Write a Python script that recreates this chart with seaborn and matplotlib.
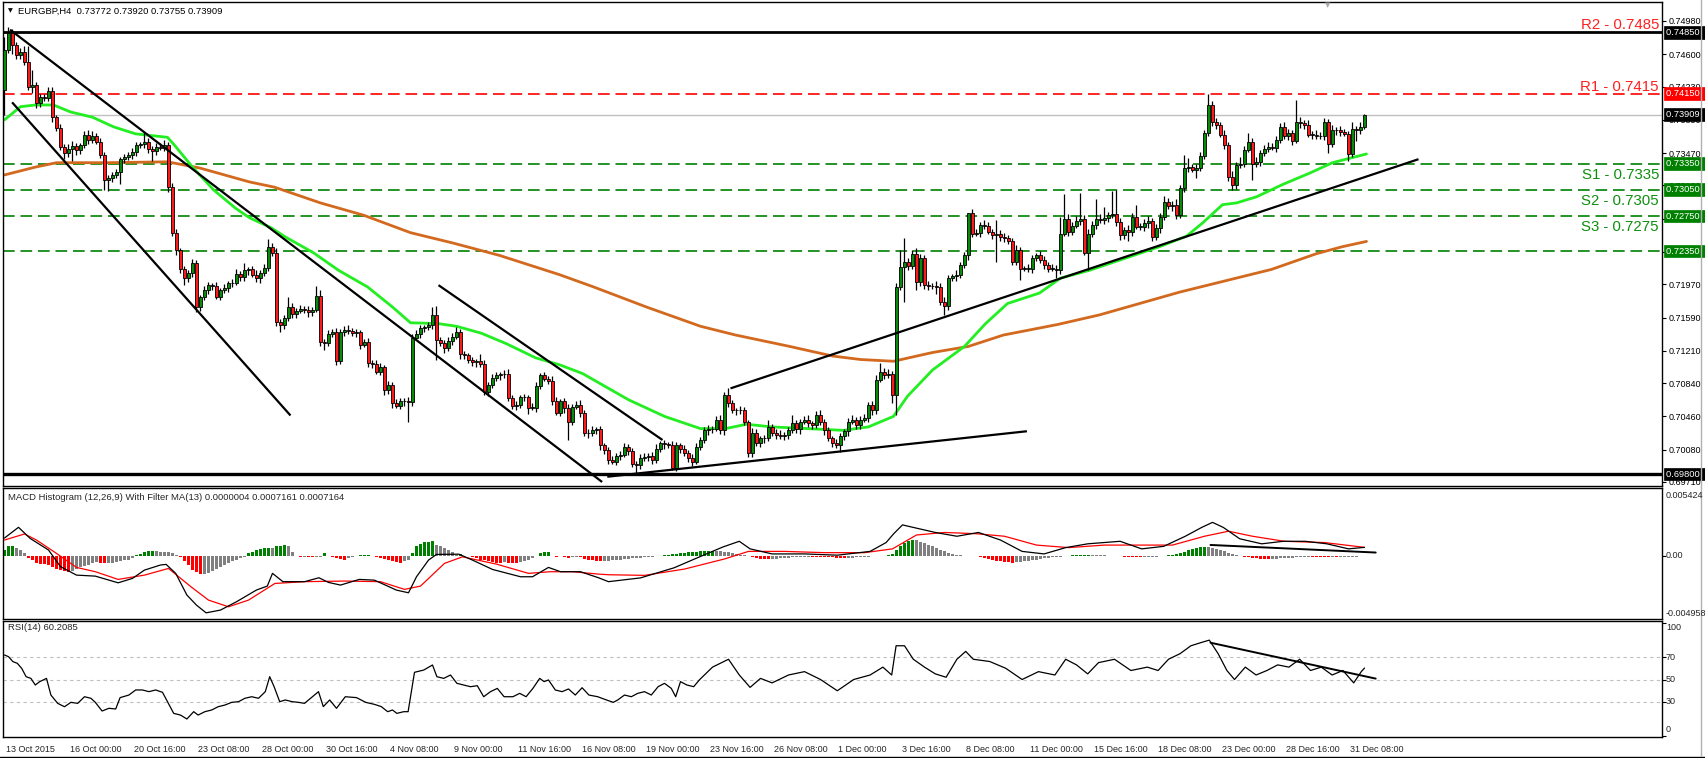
import numpy as np
import pandas as pd
import matplotlib
matplotlib.use("Agg")
import matplotlib.pyplot as plt
import matplotlib.transforms as mtransforms
from matplotlib.lines import Line2D
import seaborn as sns

# ---------------- data (prices in pips: 7465 -> 0.7465) ----------------
symbol_header = "EURGBP,H4  0.73772 0.73920 0.73755 0.73909"
macd_header = "MACD Histogram (12,26,9) With Filter MA(13) 0.0000004 0.0007161 0.0007164"
rsi_header = "RSI(14) 60.2085"

first_open = 7419
closes = [
7465,7484,7471,7459,7463,7451,7423,7425,7404,7411,
7410,7418,7388,7376,7354,7347,7352,7355,7350,7356,
7368,7362,7367,7360,7345,7316,7318,7322,7325,7340,
7342,7345,7348,7356,7357,7360,7352,7349,7354,7353,
7356,7308,7256,7236,7214,7204,7210,7221,7171,7182,
7190,7196,7195,7183,7190,7193,7198,7199,7209,7205,
7213,7214,7208,7204,7210,7216,7240,7233,7154,7150,
7158,7171,7163,7167,7169,7168,7165,7168,7184,7131,
7130,7140,7143,7109,7143,7145,7144,7141,7142,7128,
7131,7107,7106,7097,7102,7076,7082,7061,7058,7063,
7064,7062,7136,7140,7147,7148,7150,7162,7133,7130,
7124,7132,7137,7143,7117,7116,7110,7108,7109,7106,
7074,7082,7090,7093,7094,7095,7067,7058,7059,7068,
7068,7056,7056,7081,7093,7089,7087,7064,7050,7063,
7055,7040,7057,7059,7050,7027,7027,7030,7031,7013,
7007,6996,6994,7001,7002,7011,7006,6992,6990,6998,
7000,7001,6996,7009,7015,7014,7013,6987,7013,7009,
7004,6998,6994,7011,7019,7030,7031,7032,7042,7030,
7070,7061,7053,7053,7053,7039,7004,7027,7015,7021,
7021,7034,7027,7025,7023,7025,7030,7038,7031,7040,
7042,7038,7036,7048,7040,7030,7021,7015,7013,7023,
7029,7040,7042,7036,7042,7044,7059,7053,7088,7097,
7093,7095,7070,7194,7217,7222,7218,7232,7200,7227,
7196,7195,7195,7194,7177,7172,7204,7206,7208,7219,
7230,7278,7255,7256,7265,7264,7257,7253,7255,7251,
7250,7246,7223,7236,7215,7215,7215,7227,7230,7225,
7219,7215,7215,7213,7255,7272,7257,7264,7269,7272,
7233,7255,7265,7272,7270,7273,7276,7277,7268,7253,
7259,7257,7274,7263,7263,7267,7269,7251,7261,7274,
7291,7286,7288,7276,7307,7330,7331,7328,7330,7344,
7370,7402,7383,7379,7368,7356,7320,7310,7333,7335,
7351,7360,7335,7337,7347,7352,7354,7353,7362,7377,
7366,7370,7361,7383,7381,7379,7368,7368,7367,7366,
7382,7357,7373,7373,7371,7369,7346,7374,7373,7377,
7391]
up_wick = [
15,7,5,3,4,6,18,17,3,4, 3,5,4,3,4,3,5,6,4,3, 4,5,5,3,4,3,4,3,4,3,
4,3,5,4,3,11,4,3,5,4, 6,4,5,4,3,4,3,5,4,3, 5,4,3,5,3,4,3,4,5,3,
8,3,4,5,3,4,9,4,6,3, 4,11,5,3,4,3,4,3,11,6, 4,5,3,4,3,4,5,3,4,3,
4,5,3,4,5,3,4,3,5,4, 3,4,4,5,4,3,4,9,10,4, 3,5,4,5,3,4,3,4,3,8,
4,3,5,4,3,4,5,3,4,3, 4,3,5,4,3,4,3,5,4,3, 4,5,3,4,6,3,4,5,3,4,
3,4,5,3,4,5,3,4,3,5, 4,3,4,5,3,4,3,5,4,3, 4,3,5,4,3,4,5,3,4,5,
4,8,4,3,5,4,3,6,4,3, 4,8,3,4,5,3,4,10,4,3, 4,5,3,4,5,3,4,3,5,4,
3,4,5,3,4,5,3,4,5,10, 4,5,3,4,19,28,5,4,6,5, 4,5,3,6,4,5,4,3,5,4,
4,0,5,4,3,5,4,3,15,4, 5,3,4,6,4,3,5,4,3,5, 4,3,5,4,19,28,5,4,6,29,
4,5,4,22,5,12,4,27,28,5, 4,6,5,14,4,5,6,4,5,4, 7,5,4,6,4,15,10,4,5,4,
3,13,5,4,3,5,4,6,4,7, 4,10,4,5,3,4,6,4,5,4, 5,4,3,25,5,4,6,4,5,4,
5,4,6,4,5,4,3,8,4,5, 1]
low_wick = [
28,4,11,5,4,3,4,7,6,4, 3,4,5,4,4,7,4,14,5,4, 3,5,4,3,4,11,12,4,3,13,
4,3,5,4,3,4,5,11,4,3, 4,5,4,5,4,8,4,5,6,4, 3,4,5,3,4,3,5,4,3,4,
4,5,3,4,5,3,4,4,5,7, 4,3,5,4,3,4,5,4,3,4, 8,4,3,4,3,5,4,3,4,5,
3,4,5,3,4,5,4,6,3,4, 5,22,4,3,4,5,3,4,23,4, 5,3,4,3,5,4,3,4,5,3,
4,5,3,4,5,4,3,4,5,3, 4,7,3,5,4,3,4,5,3,4, 5,21,4,3,5,4,6,3,4,5,
4,5,3,4,5,3,4,4,9,4, 3,5,4,3,4,5,3,2,4,5, 3,4,5,3,4,3,5,4,3,4,
5,4,3,5,4,3,4,5,3,4, 5,3,4,5,3,4,5,3,4,5, 3,4,5,3,4,5,3,4,3,8,
4,5,3,4,5,3,4,5,4,3, 4,3,9,22,4,40,5,4,10,5, 4,5,3,8,4,10,4,3,5,4,
3,5,4,3,5,4,3,4,30,4, 5,3,4,4,13,3,4,5,3,4, 5,4,3,9,4,3,5,4,3,4,
3,20,4,5,3,4,5,3,4,5, 4,10,5,3,4,5,6,4,3,5, 4,3,5,4,3,4,5,3,10,4,
4,3,5,4,3,4,5,5,4,3, 4,3,19,4,5,3,4,3,5,4, 3,4,5,3,5,4,3,5,4,3,
4,10,3,5,4,3,8,4,12,4, 2]

# moving averages read at sample bars
ma_fast_bar = [0,4,7.75,12.25,16.5,22,27.25,32.75,40.75,42.5,47,52.25,57.75,61.25,66.5,70.25,
               77.25,83.5,90.75,97,101.5,108.5,113,119.25,125.5,132.75,138.75,144.5,156,165,174,
               180.25,185.5,191.75,200.75,209.75,216,222.25,225.75,232,240,245.25,250.75,258.75,
               264,271.25,288.75,295.5,299.5,304.5,308,313,319.5,326.25,332,336.25,340.5]
ma_fast_val = [7385,7400,7402,7402,7394,7388,7377,7369,7365,7356,7331,7305,7284,7273,7262,7251,
               7233,7213,7194,7171,7153,7152,7149,7141,7129,7113,7105,7095,7065,7046,7032,
               7032,7037,7034,7032,7030,7034,7046,7069,7099,7126,7152,7175,7187,
               7204,7213,7240,7252,7267,7288,7290,7297,7311,7324,7336,7341,7346]
ma_slow_bar = [0,7.75,13,25.5,40.75,48.75,61.25,67.5,79,89.75,101.5,112.25,123.75,138.75,147.25,
               160.5,174,182.75,196.25,207,214,222.25,232,241,249.75,263.25,273.75,293.75,316.75,
               328,334.5,340.5]
ma_slow_val = [7322,7331,7336,7336,7337,7330,7314,7308,7290,7276,7256,7244,7230,7208,7194,
               7171,7149,7139,7126,7115,7111,7109,7119,7126,7139,7151,7162,7188,7214,
               7232,7240,7246]

# MACD (units of 1e-5)
macd_bar = [0,3.5,6.4,11,14,18,22.7,28.4,32,35,39,40.4,42.8,45.6,48,50.4,54,58,63,65.7,67,69.6,75,
            78.6,81,84,88.7,92.5,98,101,103,106,108,113.6,117,122,129,132,136,139,144,148.5,
            151,159,167.4,174,179.6,183.7,186.4,191.9,200,208.2,216.4,220.4,222.3,224.5,227.2,
            232.7,238.1,243.5,249,254.4,259.9,265.3,270.8,278.9,284.3,289.8,295.2,299.3,302,
            304.7,308.8,314.3,319.7,325.2,330.6,336,340]
macd_val = [146,231,143,51,-81,-148,-156,-209,-174,-108,-68,-63,-134,-306,-386,-447,-425,-359,-266,
            -235,-134,-200,-200,-169,-206,-227,-182,-188,-267,-288,-161,-29,16,18,-29,-103,-161,
            -161,-87,-121,-121,-169,
            -200,-170,-90,0,75,120,60,20,20,10,40,110,180,250,230,190,160,190,130,40,20,70,100,
            120,60,80,160,230,270,230,140,100,120,120,100,60,72]
signal_bar = [0,5,8,13,18,22.7,28.4,35,41,46.6,51,56,61,67.6,75,85,94,100,104,110,114.5,123,131,
              136.5,142,148.5,151,160,170,180,186,195,205,215,222,228,235,243,250,258,266,275,
              285,292,300,306,312,320,330,340]
signal_val = [130,178,130,24,-87,-121,-182,-148,-95,-240,-346,-399,-346,-214,-200,-195,-200,-261,
              -235,-55,-3,-61,-134,-121,-121,-140,-145,-150,-100,-20,40,40,30,30,60,170,190,180,
              160,90,70,90,90,90,160,200,160,120,110,72]
hist = [
53,85,85,66,53,26,-13,-26,-53,-58, -61,-66,-80,-101,-111,-119,-127,-119,-101,-85,
-74,-66,-53,-48,-50,-53,-52,-50,-45,-40, -32,-26,-13,13,21,32,40,42,40,39,
38,32,26,13,-5,-40,-66,-106,-127,-138, -137,-132,-119,-101,-85,-66,-53,-40,-26,-13,
-3,26,34,48,58,64,69,66,79,85, 93,79,32,0,-8,-5,-5,-5,-3,-1,
26,0,-5,-13,-20,-26,-13,-5,0,13, 13,14,0,-5,-13,-19,-26,-40,-48,-53,
-40,-32,26,85,101,111,117,125,93,79, 66,48,32,13,21,5,0,-8,-13,-26,
-32,-40,-48,-53,-53,-48,-50,-53,-53,-45, -40,-26,-13,5,26,32,37,5,-5,0,
-5,-13,-8,-5,-5,-21,-26,-32,-40,
-40,-38,-35,-30,-28,-25,-22,-18,-15,-12,-10,-8,
-5,-2,2,6,10,14,18,22,26,30,33,36,38,40,42,
44,46,45,42,38,33,28,22,15,8,
0,-8,-14,-18,-20,-22,-20,-18,-15,-12,-10,-8,-6,-4,-3,
-2,-2,-3,-4,-5,-6,-8,-10,-12,-13,-12,-10,-8,-6,-4,-2,0,2,4,6,10,20,
50,85,110,125,130,128,118,105,92,80,66,52,40,
30,22,15,10,6,4,2,0,-5,-12,-20,-28,-35,-40,-45,-48,-50,-48,-45,-40,
-35,-30,-25,-20,-16,-12,-8,-5,-2,2,5,8,10,12,14,15,14,12,10,8,
6,4,2,0,-2,-4,-5,-6,-6,-5,-4,-3,-2,0,3,8,14,20,28,38,
48,58,66,72,75,74,70,62,52,40,28,18,10,4,-2,
-8,-12,-15,-18,-20,-20,-19,-18,-16,-14,-12,-10,-8,-7,-6,
-5,-5,-6,-6,-7,-7,-6,-6,-5,-4,-3,-2,-1,0,0]

# RSI(14) read at sample bars
rsi_bar = [0,1,2.1,3.2,4.3,5.4,6.6,7.7,8.8,10.5,11.6,13.3,15,16.6,18.3,20,21.6,22.7,24.4,26.1,27.8,
           28.9,31.1,32.8,34.5,36.1,37.8,39.5,41.2,42.3,44,45.6,47.3,48.4,50.1,51.8,53.4,55.1,56.8,
           58.5,60.1,61.8,63.5,65.2,66.3,67.4,68.8,70.2,71.9,73.5,75,78.5,79.7,81.3,83,85.2,88,90.3,
           92.5,94.2,95.8,97,98.1,99.8,100.9,102.5,104.8,107,108.1,109.8,111.5,113.1,114.8,116.5,
           118.2,119.8,121.5,123.2,124.9,127.1,128.8,130.4,132.1,133.8,134.9,136,137.7,139.4,141,
           142.7,144.4,146.1,148.3,150.5,152.2,153.3,155,156.7,158.3,160,161.7,163.4,165,166.7,
           167.8,169,170.6,172.3,173.7,177,181,183.7,186.4,189,191.9,196,200,204,208.2,212.3,
           216.4,219.6,221.8,222.9,225,227.2,230,232.7,235.4,238.1,240.3,242.2,246.3,250.3,254.4,
           258.5,262.6,265.3,268,270.8,273.5,277.5,281.6,285.7,288.4,291,293.9,296.6,299.3,301.2,
           303.4,305.6,307.5,310.2,312.9,315.6,318.3,321.1,323.8,326.5,329.2,331.9,334.6,337.3,
           339.2,340]
rsi_val = [71.8,70.3,65.9,64.4,59.9,52.5,51,45.1,48.1,51,36.2,28.8,25.8,29.7,28.8,34.7,33.3,29.7,22,
           24.4,23.8,33.9,36.2,40.7,40.7,39.2,40.7,38.6,27.3,19.9,18.4,14.9,21.4,18.4,21.4,22.9,
           25.8,27.3,29.7,30.3,33.3,34.7,33.3,39.2,52.5,43.6,30.3,31.8,30.3,29.7,28.8,39.2,25.9,
           31.8,24.4,34.7,33.9,29.7,27.9,25.9,21.4,22.9,19.9,21.4,21.4,56.4,58.4,62.9,52.5,51,54,
           46.6,45.1,43.6,44.5,34.7,39.2,42.1,34.7,34.7,37.7,34.7,42.1,51,48.1,49.6,40.7,39.2,
           41.6,36.2,42.7,36.2,34.7,31.8,29.7,31.8,36.2,34.7,37.7,39.2,36.2,43.6,46.6,42.1,34.7,
           48.1,45.1,43.6,49.6,61,68,54,43,51,47,54,57,50,40,50,54,61,54,80,80,68,61,55,52,68,75,
           68,66,60,50,57,54,68,63,55,65,68,58,61,58,68,73,80,83,85,73,58,50,61,54,58,63,61,68,
           58,61,54,58,47,57,60.2]

# support / resistance levels
level_r2, level_r1 = 0.7485, 0.7415
level_s = [0.7335, 0.7305, 0.7275]
level_extra = 0.7235
level_floor = 0.6980
last_price = 0.73909
price_ticks = [0.74980,0.74600,0.74230,0.73850,0.73470,0.73100,0.72720,0.72340,0.71970,
               0.71590,0.71210,0.70840,0.70460,0.70080,0.69710]
hidden_ticks = [0.72340]   # fully covered by the 0.72350 tag in the reference
# drawn trend lines (bar, pips)
trend_main = [((1.4,7488),(149.4,6971)), ((108.5,7196),(164.5,7019)), ((1.9,7405),(71.5,7047)),
              ((150.7,6977),(255.6,7029)), ((181.5,7078),(353.5,7340))]
trend_macd = ((301.5,91),(342.8,31))
trend_rsi = ((301.5,82.7),(342.8,50.8))

time_labels = ["13 Oct 2015","16 Oct 00:00","20 Oct 16:00","23 Oct 08:00","28 Oct 00:00","30 Oct 16:00",
               "4 Nov 08:00","9 Nov 00:00","11 Nov 16:00","16 Nov 08:00","19 Nov 00:00","23 Nov 16:00",
               "26 Nov 08:00","1 Dec 00:00","3 Dec 16:00","8 Dec 08:00","11 Dec 00:00","15 Dec 16:00",
               "18 Dec 08:00","23 Dec 00:00","28 Dec 16:00","31 Dec 08:00"]
time_label_bars = [0,16,32,48,64,80,96,112,128,144,160,176,192,208,224,240,256,272,288,304,320,336]

n = len(closes)
for nm, arr in [("up", up_wick), ("low", low_wick), ("hist", hist)]:
    if len(arr) != n:
        raise ValueError(f"{nm} length {len(arr)} != {n}")

# ---------------- figure ----------------
sns.set_theme(style="white")
plt.rcParams['font.family'] = ['Liberation Sans', 'DejaVu Sans']
W, H = 1706, 758
fig = plt.figure(figsize=(W/100, H/100), dpi=100, facecolor='white')

def axes_px(x0, y0, x1, y1):
    return fig.add_axes([x0/W, 1-y1/H, (x1-x0)/W, (y1-y0)/H])

YL = (0.69664, 0.75197)
ax = axes_px(3, 2, 1662, 486)
axm = axes_px(3, 488, 1662, 619)
axr = axes_px(3, 621, 1662, 737)

XL = (-0.375, (1662-4.5)/4)
for a in (ax, axm, axr):
    a.set_facecolor('white')
    a.set_xlim(*XL)
    for s in a.spines.values():
        s.set_color('black'); s.set_linewidth(1.0)
    a.grid(False)

df = pd.DataFrame({'bar': np.arange(n), 'close': np.array(closes)/1e4})
df['open'] = np.concatenate([[first_open/1e4], df['close'].values[:-1]])
df['top'] = df[['open', 'close']].max(axis=1)
df['bot'] = df[['open', 'close']].min(axis=1)
df['high'] = df['top'] + np.array(up_wick)/1e4
df['low'] = df['bot'] - np.array(low_wick)/1e4
up = df['close'] >= df['open']

# wicks and bodies
ax.vlines(df['bar'], df['low'], df['high'], color='black', lw=0.9, zorder=3)
body_h = np.maximum(df['top'] - df['bot'], 0.00004)
ax.bar(df['bar'], body_h, bottom=df['bot'], width=0.72,
       color=np.where(up, '#0a8a0a', '#ff1a1a'), edgecolor='black', linewidth=0.6, zorder=4)

# moving averages
sns.lineplot(x=ma_slow_bar, y=np.array(ma_slow_val)/1e4, ax=ax, color='#d2691e', lw=2.0, zorder=2)
sns.lineplot(x=ma_fast_bar, y=np.array(ma_fast_val)/1e4, ax=ax, color='#22ee22', lw=2.0, zorder=2)

# levels
ax.axhline(level_r2, color='black', lw=2.0, zorder=1)
ax.axhline(level_floor, color='black', lw=2.4, zorder=1)
ax.axhline(last_price, color='#c0c0c0', lw=1.0, zorder=1)
ax.axhline(level_r1, color='#ff0000', lw=1.2, dashes=(7, 3.5), zorder=1)
for lv in level_s + [level_extra]:
    ax.axhline(lv, color='#008000', lw=1.2, dashes=(7, 3.5), zorder=1)

# trend lines
for (b0, p0), (b1, p1) in trend_main:
    ax.plot([b0, b1], [p0/1e4, p1/1e4], color='black', lw=1.6, zorder=5, solid_capstyle='butt')
ax.set_xlim(*XL)
ax.set_ylim(*YL)

# level annotations
blend = mtransforms.blended_transform_factory(ax.transAxes, ax.transData)
for txt, lv, col, dy, va in [("R2 - 0.7485", level_r2, '#ff2020', 3, 'baseline'),
                             ("R1 - 0.7415", level_r1, '#ff2020', 3, 'baseline'),
                             ("S1 - 0.7335", level_s[0], '#0f8f0f', -4, 'top'),
                             ("S2 - 0.7305", level_s[1], '#0f8f0f', -4, 'top'),
                             ("S3 - 0.7275", level_s[2], '#0f8f0f', -4, 'top')]:
    ax.annotate(txt, xy=(1.0, lv), xycoords=blend, xytext=(-3, dy), textcoords='offset pixels',
                ha='right', va=va, fontsize=10.8, color=col, zorder=6)

# right price axis
ax.yaxis.tick_right()
ax.set_yticks(price_ticks)
ax.set_yticklabels(["" if t in hidden_ticks else f"{t:.5f}" for t in price_ticks])
ax.tick_params(axis='y', which='major', length=3, width=0.8, pad=2, labelsize=6.5,
               color='black', labelcolor='black', direction='out')
ax.set_xticks([])

# coloured price tags on the price scale
def price_tag(val, txt, fc):
    ax.annotate(txt, xy=(1.0, val), xycoords=blend, xytext=(4, 0), textcoords='offset pixels',
                ha='left', va='center', fontsize=6.7, color='white', annotation_clip=False,
                zorder=30, bbox=dict(boxstyle='square,pad=0.2', fc=fc, ec=fc, lw=0.5))

price_tag(level_r2, "0.74850  ", 'black')
price_tag(level_r1, "0.74150  ", '#ff0000')
price_tag(last_price, "0.73909  ", 'black')
for lv in level_s + [level_extra]:
    price_tag(lv, f"{lv:.5f}  ", '#008000')
price_tag(level_floor, "0.69800  ", 'black')

# headers
fig.text(18/W, 1-11/H, symbol_header, fontsize=6.8, va='center', ha='left', color='black')
fig.text(8/W, 1-11/H, "\u25BC", fontsize=4.5, va='center', ha='left', color='black',
         family='DejaVu Sans')
fig.text(1328/W, 1-5/H, "\u25BC", fontsize=5, va='center', ha='center', color='#a8a8a8',
         family='DejaVu Sans')

# ---------------- MACD panel ----------------
hv = np.array(hist)/1e5
prev = np.concatenate([[hv[0]], hv[:-1]])
hcol = np.where((hv > 0) & (hv >= prev), '#008000',
                np.where((hv < 0) & (hv <= prev), '#ff0000', '#808080'))
axm.bar(np.arange(n), hv, width=0.72, color=hcol, edgecolor='none', zorder=2)
sns.lineplot(x=signal_bar, y=np.array(signal_val)/1e5, ax=axm, color='#ff0000', lw=0.9, zorder=3)
sns.lineplot(x=macd_bar, y=np.array(macd_val)/1e5, ax=axm, color='black', lw=0.9, zorder=4)
(b0, v0), (b1, v1) = trend_macd
axm.plot([b0, b1], [v0/1e5, v1/1e5], color='black', lw=1.4, zorder=5)
axm.set_xlim(*XL)
axm.set_ylim(-0.004958, 0.005424)
axm.set_xticks([])
axm.yaxis.tick_right()
axm.set_yticks([0.0])
axm.set_yticklabels([""])
axm.tick_params(axis='y', length=3, width=0.8, direction='out', color='black')
fig.text(1666/W, 1-496/H, "0.005424", fontsize=6.5, va='center', ha='left')
fig.text(1666/W, 1-556/H, "0.00", fontsize=6.5, va='center', ha='left')
fig.text(1666/W, 1-613/H, "-0.004958", fontsize=6.5, va='center', ha='left')
fig.text(8/W, 1-497/H, macd_header, fontsize=6.8, va='center', ha='left')

# ---------------- RSI panel ----------------
for lv in (70, 50, 30):
    axr.axhline(lv, color='#c0c0c0', lw=0.8, dashes=(3, 3), zorder=1)
sns.lineplot(x=rsi_bar, y=rsi_val, ax=axr, color='black', lw=0.9, zorder=3)
(b0, v0), (b1, v1) = trend_rsi
axr.plot([b0, b1], [v0, v1], color='black', lw=1.4, zorder=4)
axr.set_xlim(*XL)
axr.set_ylim(-1.1, 102)
axr.yaxis.tick_right()
axr.set_yticks([100, 70, 50, 30, 0])
axr.set_yticklabels(["", "", "", "", ""])
axr.tick_params(axis='y', length=3, width=0.8, direction='out', color='black')
for txt, ypx in [("100", 628), ("70", 657), ("50", 680), ("30", 702), ("0", 730)]:
    fig.text(1666/W, 1-ypx/H, txt, fontsize=6.5, va='center', ha='left')
fig.text(8/W, 1-628/H, rsi_header, fontsize=6.8, va='center', ha='left')

# time axis
axr.set_xticks(time_label_bars)
axr.set_xticklabels(time_labels, fontsize=6.5)
axr.tick_params(axis='x', length=4, width=0.8, direction='out', pad=1.5, color='black')
offset = mtransforms.ScaledTranslation(2/100, 0, fig.dpi_scale_trans)
for lab in axr.get_xticklabels():
    lab.set_horizontalalignment('left')
    lab.set_transform(lab.get_transform() + offset)
for a in (ax, axm, axr):
    a.set_xlabel(''); a.set_ylabel('')
    if a.get_legend():
        a.get_legend().remove()

# window frame lines
fig.add_artist(Line2D([0, 1], [1-756.5/H, 1-756.5/H], color='black', lw=1.0))
fig.add_artist(Line2D([1701/W, 1701/W], [1-756/H, 1], color='#b0b0b0', lw=1.0))

fig.savefig("out.png", dpi=100, facecolor='white')
